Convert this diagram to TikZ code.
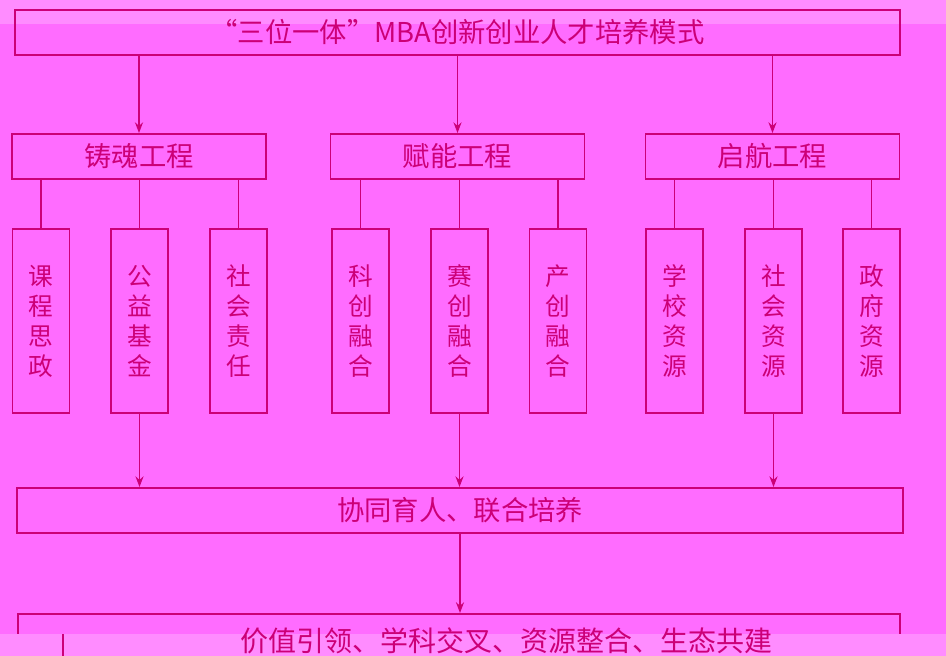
\documentclass[tikz,border=0pt]{standalone}
\usepackage{fontspec}
\setmainfont{Noto Sans CJK SC}
\usetikzlibrary{arrows.meta}
\definecolor{bgpink}{RGB}{255,108,255}
\definecolor{lightpink}{RGB}{255,140,255}
\definecolor{linered}{RGB}{204,0,119}
\begin{document}
\begin{tikzpicture}[>={Stealth[length=8pt,width=6pt]}, x=0.75pt, y=-0.75pt,
	box/.style={draw=linered, line width=1.4pt, text=linered, inner sep=0pt},
	wide/.style={box, minimum height=33.75pt, font=\fontsize{20.5}{24}\selectfont},
	part/.style={wide, minimum width=190.5pt},
	tall/.style={box, minimum width=42.75pt, minimum height=138pt, align=center,
		font=\fontsize{18.5}{22.5}\selectfont},
	link/.style={draw=linered, line width=1.4pt}]
	\fill[bgpink] (0,0) rectangle (946,656);
	\fill[lightpink] (0,0) rectangle (946,24);
	\useasboundingbox (0,0) rectangle (946,656);
	% top
	\node[wide, minimum width=663.75pt, font=\fontsize{20.5}{24}\selectfont] (mode) at (457.5,32.5) {“三位一体”MBA创新创业人才培养模式};
	% three projects
	\node[part] (zhuhun) at (139,156.5) {铸魂工程};
	\node[part] (funeng) at (457.5,156.5) {赋能工程};
	\node[part] (qihang) at (772.5,156.5) {启航工程};
	% nine items
	\node[tall] (kc) at (41,321) {课\\程\\思\\政};
	\node[tall] (gy) at (139.5,321) {公\\益\\基\\金};
	\node[tall] (shz) at (238.5,321) {社\\会\\责\\任};
	\node[tall] (kcr) at (360.5,321) {科\\创\\融\\合};
	\node[tall] (scr) at (459.5,321) {赛\\创\\融\\合};
	\node[tall] (ccr) at (558,321) {产\\创\\融\\合};
	\node[tall] (xx) at (674.5,321) {学\\校\\资\\源};
	\node[tall] (shy) at (773.5,321) {社\\会\\资\\源};
	\node[tall] (zf) at (871.5,321) {政\\府\\资\\源};
	% joint box
	\node[wide, minimum width=664.5pt] (xietong) at (460,510.5) {协同育人、联合培养};
	\node[box, minimum width=661.5pt, minimum height=60pt, anchor=north] (jiazhi) at (459,613) {};
	% arrows
	\draw[link, ->] (zhuhun.north |- mode.south) -- (zhuhun.north);
	\draw[link, ->] (funeng.north |- mode.south) -- (funeng.north);
	\draw[link, ->] (qihang.north |- mode.south) -- (qihang.north);
	\foreach \a/\b in {zhuhun/kc, zhuhun/gy, zhuhun/shz, funeng/kcr, funeng/scr, funeng/ccr, qihang/xx, qihang/shy, qihang/zf}
		\draw[link] (\b.north |- \a.south) -- (\b.north);
	\foreach \b in {gy, scr, shy}
		\draw[link, ->] (\b.south) -- (\b.south |- xietong.north);
	\draw[link, ->] (xietong.south) -- (xietong.south |- jiazhi.north);
	% bottom strip
	\fill[lightpink] (0,634) rectangle (946,656);
	\coordinate (cut) at (63,634);
	\draw[link] (cut) -- (cut |- 0,656);
	\node[text=linered, font=\fontsize{21}{24}\selectfont] (jztxt) at (506,641) {价值引领、学科交叉、资源整合、生态共建};
\end{tikzpicture}
\end{document}
